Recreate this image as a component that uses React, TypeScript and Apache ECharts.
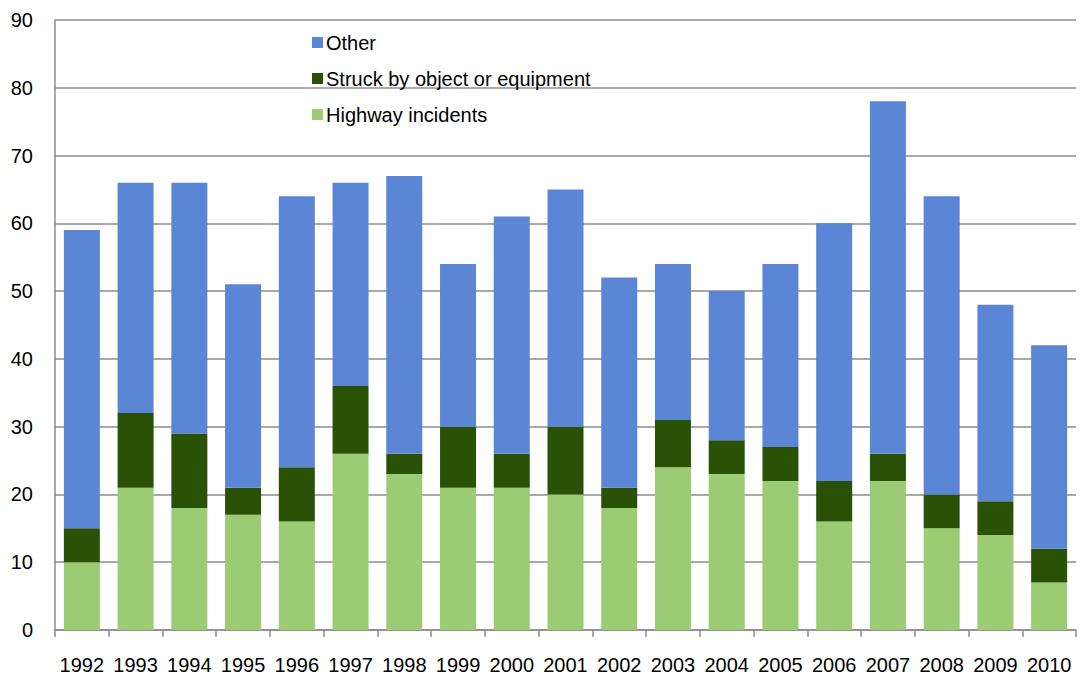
import React, { useEffect, useRef } from "react";
import * as echarts from "echarts";

const years = ["1992","1993","1994","1995","1996","1997","1998","1999","2000","2001","2002","2003","2004","2005","2006","2007","2008","2009","2010"];
const highway = [10,21,18,17,16,26,23,21,21,20,18,24,23,22,16,22,15,14,7];
const struck = [5,11,11,4,8,10,3,9,5,10,3,7,5,5,6,4,5,5,5];
const other = [44,34,37,30,40,30,41,24,35,35,31,23,22,27,38,52,44,29,30];

export default function App() {
  const ref = useRef<HTMLDivElement>(null);
  useEffect(() => {
    const chart = echarts.init(ref.current!, null, { renderer: "svg" });
    const font = "Liberation Sans, Arial, sans-serif";
    chart.setOption({
      animation: false,
      textStyle: { fontFamily: font },
      grid: { left: 55, right: 10, top: 20, bottom: 44, containLabel: false },
      legend: {
        orient: "vertical",
        left: 307,
        top: 26,
        itemWidth: 11,
        itemHeight: 11,
        itemGap: 13,
        icon: "rect",
        data: ["Other", "Struck by object or equipment", "Highway incidents"],
        textStyle: { fontSize: 20, color: "#000", fontFamily: font, padding: [0, 0, 0, -2], lineHeight: 23 },
      },
      xAxis: {
        type: "category",
        data: years,
        axisLine: { lineStyle: { color: "#8c8c8c", width: 1.5 } },
        axisTick: { show: true, interval: 0, length: 7, lineStyle: { color: "#8c8c8c", width: 1.5 } },
        axisLabel: { interval: 0, fontSize: 20, color: "#000", margin: 25, fontFamily: font },
      },
      yAxis: {
        type: "value",
        min: 0,
        max: 90,
        interval: 10,
        axisLine: { show: true, lineStyle: { color: "#8c8c8c", width: 1.5 } },
        axisTick: { show: false },
        splitLine: { lineStyle: { color: "#8c8c8c", width: 1.5 } },
        axisLabel: { fontSize: 20, color: "#000", margin: 22, fontFamily: font },
      },
      series: [
        { name: "Highway incidents", type: "bar", stack: "t", data: highway, barCategoryGap: "33%", itemStyle: { color: "#9bcb73" } },
        { name: "Struck by object or equipment", type: "bar", stack: "t", data: struck, itemStyle: { color: "#2a5206" } },
        { name: "Other", type: "bar", stack: "t", data: other, itemStyle: { color: "#5b86d6" } },
      ],
    });
    return () => chart.dispose();
  }, []);
  return <div ref={ref} style={{ width: 1086, height: 675, position: "absolute", left: 0, top: 0 }} />;
}
